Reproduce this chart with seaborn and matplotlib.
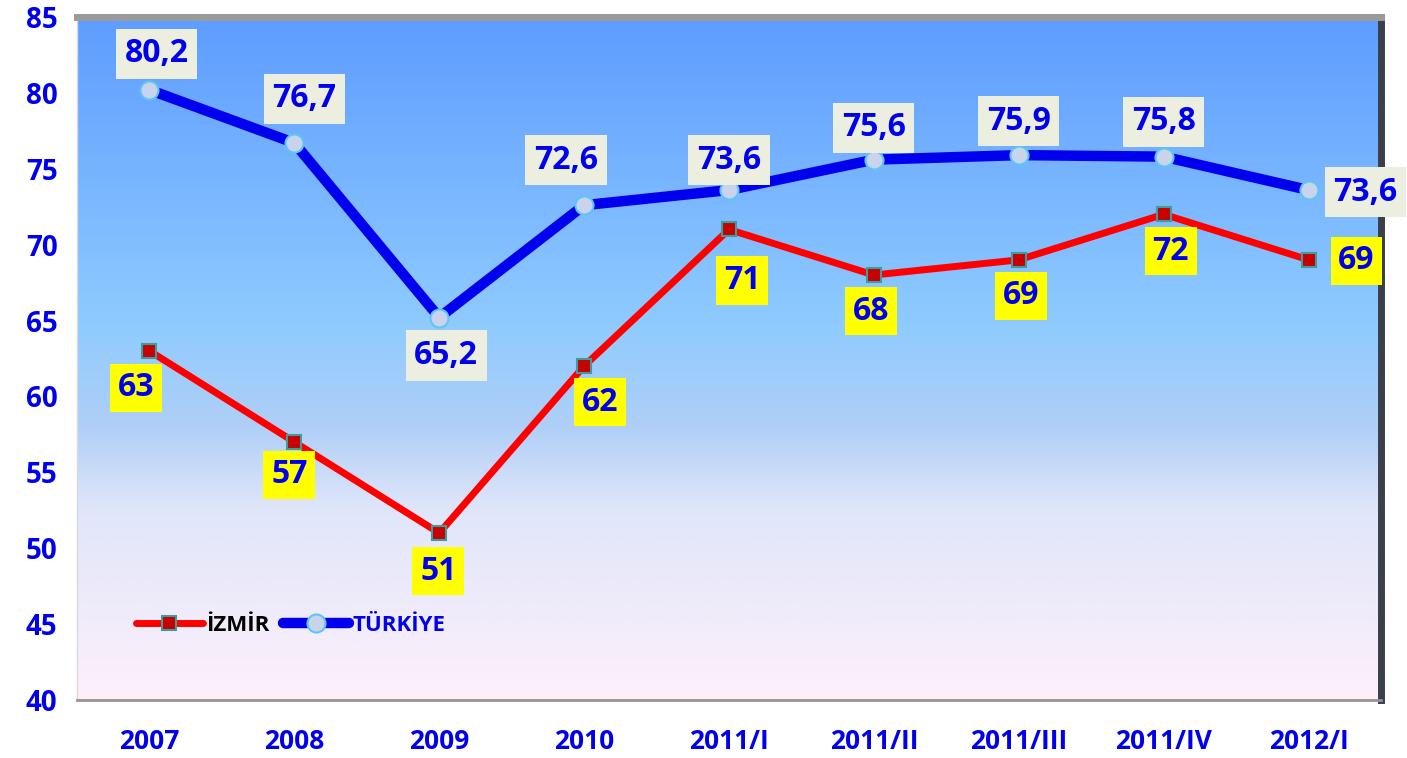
import numpy as np
import pandas as pd
import matplotlib
matplotlib.use("Agg")
import matplotlib.pyplot as plt
import seaborn as sns
from matplotlib.colors import LinearSegmentedColormap

categories = ["2007", "2008", "2009", "2010", "2011/I", "2011/II", "2011/III", "2011/IV", "2012/I"]
izmir = [63, 57, 51, 62, 71, 68, 69, 72, 69]
turkiye = [80.2, 76.7, 65.2, 72.6, 73.6, 75.6, 75.9, 75.8, 73.6]
yticks = [40, 45, 50, 55, 60, 65, 70, 75, 80, 85]

# label offsets in pixels (dx, dy)
tr_off = [(7, 36), (10, 44), (7, -38), (-18, 45), (0, 30), (0, 32), (0, 34), (0, 35), (57, -2)]
iz_off = [(-13, -37), (-5, -33), (-1, -38), (16, -36), (13, -51), (-3, -36), (2, -36), (7, -37), (48, -1)]

sns.set_theme(style="white")
plt.rcParams['font.family'] = ['Open Sans', 'DejaVu Sans']

fig = plt.figure(figsize=(14.07, 7.58), dpi=100)
ax = fig.add_axes([77/1407, 58/758, 1304/1407, 683/758])

# gradient background
cmap = LinearSegmentedColormap.from_list("bg", [
    (0.0, "#5E9CFF"), (0.45, "#8FCBFF"), (0.6, "#AFCFF7"),
    (0.72, "#E0E6FA"), (1.0, "#FDF0FA")])
grad = np.linspace(0, 1, 256).reshape(-1, 1)
ax.imshow(grad, cmap=cmap, aspect="auto", extent=(0, 1, 0, 1),
          transform=ax.transAxes, zorder=0)

df = pd.DataFrame({"cat": categories, "İZMİR": izmir, "TÜRKİYE": turkiye})

sns.lineplot(data=df, x="cat", y="İZMİR", ax=ax, color="#FF0000", lw=5,
             marker="s", markersize=10, markerfacecolor="#C80000",
             markeredgecolor="#3A9E9E", markeredgewidth=1.5, label="İZMİR",
             zorder=3, sort=False)
sns.lineplot(data=df, x="cat", y="TÜRKİYE", ax=ax, color="#0000EE", lw=7.5,
             marker="o", markersize=13, markerfacecolor="#C9D3EC",
             markeredgecolor="#5CC6F4", markeredgewidth=1.5, label="TÜRKİYE",
             zorder=4, sort=False)

for i, (c, v) in enumerate(zip(categories, turkiye)):
    ax.annotate(f"{v:.1f}".replace(".", ","), (i, v), xytext=tr_off[i],
                textcoords="offset pixels", ha="center", va="center",
                fontsize=23, fontweight="bold", color="#0000EE", zorder=6,
                bbox=dict(boxstyle="square,pad=0.27", fc="#ECEEE0", ec="none"))
for i, (c, v) in enumerate(zip(categories, izmir)):
    ax.annotate(f"{v}", (i, v), xytext=iz_off[i],
                textcoords="offset pixels", ha="center", va="center",
                fontsize=23, fontweight="bold", color="#0000EE", zorder=6,
                bbox=dict(boxstyle="square,pad=0.24", fc="#FFFF00", ec="none"))

ax.set_xlim(-0.5, len(categories) - 0.5)
ax.set_ylim(40, 85)
ax.set_yticks(yticks)
ax.set_yticklabels([str(t) for t in yticks], fontsize=20, fontweight="bold", color="#0000EE")
ax.set_xticks(range(len(categories)))
ax.set_xticklabels(categories, fontsize=19, fontweight="bold", color="#0000EE")
ax.tick_params(axis="x", pad=20, length=0)
ax.tick_params(axis="y", pad=14, length=0)
ax.set_xlabel("")
ax.set_ylabel("")

ax.spines["left"].set_color("#D9D9D9")
ax.spines["left"].set_linewidth(1)
ax.spines["bottom"].set_color("#9A9098")
ax.spines["bottom"].set_linewidth(2)
ax.spines["top"].set_color("#9A9A9A")
ax.spines["top"].set_linewidth(5)
ax.spines["right"].set_color("#3A3F4A")
ax.spines["right"].set_linewidth(5)

leg = ax.legend(loc="lower left", bbox_to_anchor=(0.03, 0.065), frameon=False,
                ncol=2, columnspacing=0.6, handlelength=3.0, handletextpad=0.15,
                prop=dict(size=16, weight="bold"))
leg.get_texts()[0].set_color("black")
leg.get_texts()[1].set_color("#0000EE")

fig.savefig("out.png", dpi=100)
